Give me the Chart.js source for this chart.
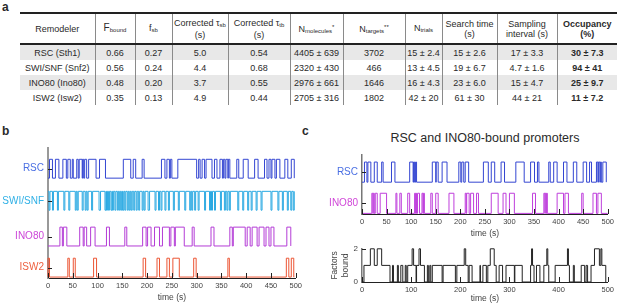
<!DOCTYPE html>
<html>
<head>
<meta charset="utf-8">
<script src="https://cdn.jsdelivr.net/npm/chart.js@4.4.1/dist/chart.umd.min.js"></script>
<style>
  body { margin: 0; width: 617px; height: 304px; background: #fff; position: relative; overflow: hidden;
         font-family: "Liberation Sans", Arial, sans-serif; color: #2a2a2a; }
  .lab { position: absolute; font-weight: bold; font-size: 12px; }
  table { position: absolute; left: 20px; top: 12px; width: 597px; border-collapse: collapse; table-layout: fixed;
          font-size: 9px; border-top: 2px solid #222; }
  th { font-weight: normal; height: 29px; border-bottom: 2px solid #222; line-height: 10px; }
  td, th { text-align: center; padding: 0; border-left: 1px solid #8a8a8a; white-space: nowrap; }
  td:first-child, th:first-child { border-left: none; }
  td { height: 15px; }
  tr.g td { background: #e8e8e8; }
  sub { font-size: 6px; vertical-align: -1px; }
  sup { font-size: 6px; vertical-align: 3px; }
  .big { font-size: 10px; }
  #ctitle { position: absolute; left: 360px; width: 250px; top: 131px; text-align: center; font-size: 12.5px; }
  canvas { position: absolute; }
</style>
</head>
<body>
<div class="lab" style="left:2px;top:0px;">a</div>
<div class="lab" style="left:2px;top:124px;">b</div>
<div class="lab" style="left:302px;top:124px;">c</div>
<div id="ctitle">RSC and INO80-bound promoters</div>

<table id="tbl">
  <colgroup>
    <col style="width:75px"><col style="width:40px"><col style="width:37px"><col style="width:56px">
    <col style="width:62px"><col style="width:53px"><col style="width:62px"><col style="width:37px">
    <col style="width:55px"><col style="width:60px"><col style="width:60px">
  </colgroup>
  <thead>
    <tr>
      <th>Remodeler</th>
      <th><span class="big">F</span><sub>bound</sub></th>
      <th>f<sub>sb</sub></th>
      <th>Corrected &tau;<sub>sb</sub><br>(s)</th>
      <th>Corrected &tau;<sub>tb</sub><br>(s)</th>
      <th>N<sub>molecules</sub><sup>*</sup></th>
      <th>N<sub>targets</sub><sup>**</sup></th>
      <th>N<sub>trials</sub></th>
      <th>Search time<br>(s)</th>
      <th>Sampling<br>interval (s)</th>
      <th><b>Occupancy<br>(%)</b></th>
    </tr>
  </thead>
  <tbody id="tbody"></tbody>
</table>

<canvas id="chartB" width="305" height="166" style="left:0px;top:138px;width:305px;height:166px;"></canvas>
<canvas id="chartC1" width="317" height="95" style="left:300px;top:145px;width:317px;height:95px;"></canvas>
<canvas id="chartC2" width="317" height="64" style="left:300px;top:240px;width:317px;height:64px;"></canvas>

<script>
// table a
var remodelers = ["RSC (Sth1)", "SWI/SNF (Snf2)", "INO80 (Ino80)", "ISW2 (Isw2)"];
var fBound = ["0.66", "0.56", "0.48", "0.35"];
var fSb = ["0.27", "0.24", "0.20", "0.13"];
var tauSb = ["5.0", "4.4", "3.7", "4.9"];
var tauTb = ["0.54", "0.68", "0.55", "0.44"];
var nMolecules = ["4405 ± 639", "2320 ± 430", "2976 ± 661", "2705 ± 316"];
var nTargets = ["3702", "466", "1646", "1802"];
var nTrials = ["15 ± 2.4", "13 ± 4.5", "16 ± 4.3", "42 ± 20"];
var searchTime = ["15 ± 2.6", "19 ± 6.7", "23 ± 6.0", "61 ± 30"];
var samplingInt = ["17 ± 3.3", "4.7 ± 1.6", "15 ± 4.7", "44 ± 21"];
var occupancy = ["30 ± 7.3", "94 ± 41", "25 ± 9.7", "11 ± 7.2"];

// panel b: binding intervals (s), flattened start,end
var rscBound = [3,9, 15,22, 30,37, 40,45, 49,51, 58,61, 63,69, 70,72, 74,78, 82,97, 104,116, 152,167, 172,177,
  190,194, 229,236, 240,245, 247,250, 262,300, 304,307, 311,316, 319,331, 336,341, 347,352, 354,357, 359,363,
  364,367, 381,385, 394,404, 417,424, 437,442, 446,450, 452,458, 461,468, 478,484, 491,497];
// SWI/SNF is mostly bound: these are the unbound dips
var swiUnbound = [2,4, 9,11, 19,21, 32,34, 42,44, 55,57, 59,61, 69,71, 75,77, 79,81, 88,90, 103,106, 115,117,
  118,120, 122,124, 127,129, 130,132, 135,137, 140,142, 144,146, 148,150, 151,153, 155,157, 160,162, 164,166,
  168,170, 173,175, 178,180, 183,185, 190,192, 194,196, 202,205, 216,218, 223,225, 228,230, 236,238, 243,245,
  253,255, 263,265, 276,278, 286,288, 290,292, 296,298, 303,305, 316,318, 326,328, 330,332, 336,338, 348,350,
  356,358, 361,363, 366,368, 383,385, 393,395, 403,405, 410,412, 420,422, 430,432, 450,452, 464,466, 473,475,
  483,485, 490,492, 495,497];
var ino80Bound = [24,29, 31,38, 64,71, 73,78, 86,95, 118,124, 155,159, 191,198, 201,208, 215,225, 231,245,
  248,255, 257,275, 291,295, 329,335, 367,372, 374,398, 402,408, 412,422, 426,436, 440,446, 450,456, 482,490];
var isw2Bound = [0,3, 40,43, 51,55, 92,98, 192,197, 220,225, 240,245, 252,265, 294,299, 363,366, 481,486, 491,496];

// panel c: RSC and INO80 at the same promoters
var cRscBound = [5,10, 12,18, 25,31, 40,43, 60,67, 97,104, 105,107, 109,111, 143,150, 151,155, 163,173, 197,201,
  203,207, 210,217, 247,257, 263,270, 283,290, 313,330, 343,351, 357,360, 380,383, 390,397, 410,417, 430,437,
  450,457, 463,467, 477,480, 481,484, 485,487, 490,497];
var cIno80Bound = [20,22, 23,25, 27,31, 37,50, 69,71, 77,80, 93,97, 107,109, 110,111, 113,117, 122,124, 125,127,
  140,143, 150,155, 177,187, 210,212, 213,218, 221,227, 233,237, 263,277, 287,293, 300,310, 347,353, 370,372,
  373,375, 376,377, 397,410, 413,420, 447,450, 470,477, 480,487];
// factors bound: time (s) where the level changes, and the new level
var fbTimes = [0, 4, 17, 25, 31, 40, 57, 62, 64, 72, 74, 79, 83, 88, 90, 93, 102, 105, 110, 111, 116, 119, 127,
  133, 135, 138, 140, 143, 163, 165, 190, 193, 208, 211, 216, 218, 224, 240, 241, 246, 253, 256, 261, 269, 273,
  279, 286, 293, 310, 311, 326, 343, 345, 347, 350, 355, 362, 370, 376, 378, 380, 393, 418, 420, 422, 430, 432,
  446, 453, 456, 459, 466, 473, 483, 486, 488, 496];
var fbLevels = [0, 1, 2, 1, 2, 1, 0, 1, 0, 1, 0, 1, 0, 1, 0, 1, 2, 1, 0, 1, 2, 1, 0,
  1, 0, 1, 0, 1, 0, 1, 0, 1, 2, 1, 0, 1, 0, 1, 0, 1, 0, 1, 2, 1, 0,
  1, 0, 1, 0, 1, 0, 1, 2, 1, 0, 1, 0, 1, 2, 1, 0, 1, 2, 1, 0, 1, 0,
  1, 0, 1, 0, 1, 2, 1, 2, 1, 0];

var xTicksB = [0, 50, 100, 150, 200, 250, 300, 350, 400, 450, 500];
var xTicksC2 = [0, 100, 200, 300, 400, 500];

var tb = document.getElementById("tbody");
remodelers.forEach(function (name, i) {
  var tr = document.createElement("tr");
  if (i % 2 === 0) tr.className = "g";
  var cells = [name, fBound[i], fSb[i], tauSb[i], tauTb[i], nMolecules[i], nTargets[i], nTrials[i],
    searchTime[i], samplingInt[i], "<b>" + occupancy[i] + "</b>"];
  tr.innerHTML = cells.map(function (c) { return "<td>" + c + "</td>"; }).join("");
  tb.appendChild(tr);
});

// turn flat toggle times into stepped points
function steps(toggles, base, start, end) {
  var state = start;
  var pts = [{ x: 0, y: base + state }];
  toggles.forEach(function (t) {
    state = 1 - state;
    pts.push({ x: t, y: base + state });
  });
  pts.push({ x: end, y: base + state });
  return pts;
}

function stepSet(data, color) {
  return { data: data, borderColor: color, borderWidth: 1, pointRadius: 0, stepped: true, fill: false, clip: 4 };
}

// small tick marks drawn inside the plot
var inTicks = {
  id: "inTicks",
  afterDatasetsDraw: function (chart) {
    var ctx = chart.ctx, a = chart.chartArea;
    var xs = chart.scales.x, ys = chart.scales.y;
    ctx.save();
    ctx.strokeStyle = "#222";
    ctx.lineWidth = 1;
    xs.ticks.forEach(function (t) {
      var px = Math.round(xs.getPixelForValue(t.value)) + 0.5;
      ctx.beginPath(); ctx.moveTo(px, a.bottom); ctx.lineTo(px, a.bottom - 5); ctx.stroke();
    });
    ys.ticks.forEach(function (t) {
      var py = Math.round(ys.getPixelForValue(t.value)) + 0.5;
      ctx.beginPath(); ctx.moveTo(a.left, py); ctx.lineTo(a.left + 4, py); ctx.stroke();
    });
    ctx.restore();
  }
};

function xAxis(tickList, h, titlePad) {
  return {
    type: "linear", min: 0, max: 500,
    afterBuildTicks: function (s) { s.ticks = tickList.map(function (v) { return { value: v }; }); },
    afterFit: function (s) { s.height = h; },
    grid: { display: false, drawTicks: false },
    border: { display: true, color: "#222", width: 1 },
    ticks: { font: { size: 7.5 }, color: "#444", padding: 3, maxRotation: 0, autoSkip: false },
    title: { display: true, text: "time (s)", font: { size: 8.5 }, color: "#444", padding: { top: 2, bottom: titlePad } }
  };
}

Chart.defaults.font.family = '"Liberation Sans", Arial, sans-serif';

// panel b
var bLabels = ["ISW2", "INO80", "SWI/SNF", "RSC"];
var bColors = ["#ee5f3e", "#cc45d8", "#2fb0e6", "#4a6fe3"];
var bBase = [0, 1.65, 3.55, 5.25];
new Chart(document.getElementById("chartB").getContext("2d"), {
  type: "line",
  data: {
    datasets: [
      stepSet(steps(rscBound, bBase[3], 0, 497), "#3446d2"),
      stepSet(steps(swiUnbound, bBase[2], 1, 497), "#2aa9e2"),
      stepSet(steps(ino80Bound, bBase[1], 0, 490), "#b43cd6"),
      stepSet(steps(isw2Bound, bBase[0], 0, 497), "#ec5534")
    ]
  },
  options: {
    responsive: false, animation: false, events: [],
    layout: { padding: { left: 0, right: 8, top: 2, bottom: 0 } },
    plugins: { legend: { display: false }, tooltip: { enabled: false } },
    scales: {
      x: xAxis(xTicksB, 26, 1),
      y: {
        min: -0.05, max: 6.85,
        afterBuildTicks: function (s) { s.ticks = bBase.map(function (b) { return { value: b + 0.5 }; }); },
        afterFit: function (s) { s.width = 48; },
        grid: { display: false, drawTicks: false },
        border: { display: true, color: "#999", width: 2 },
        ticks: {
          autoSkip: false, padding: 4, font: { size: 10 },
          color: function (c) { return bColors[c.index]; },
          callback: function (v, i) { return bLabels[i]; }
        }
      }
    }
  },
  plugins: [inTicks]
});

// panel c, top
var cLabels = ["INO80", "RSC"];
var cColors = ["#d046d8", "#4a6fe3"];
var cBase = [0, 1.55];
new Chart(document.getElementById("chartC1").getContext("2d"), {
  type: "line",
  data: {
    datasets: [
      stepSet(steps(cRscBound, cBase[1], 0, 497), "#3446d2"),
      stepSet(steps(cIno80Bound, cBase[0], 0, 500), "#bf3fdc")
    ]
  },
  options: {
    responsive: false, animation: false, events: [],
    layout: { padding: { left: 0, right: 5, top: 5, bottom: 0 } },
    plugins: { legend: { display: false }, tooltip: { enabled: false } },
    scales: {
      x: xAxis(xTicksB, 26, 1),
      y: {
        min: -0.03, max: 2.9,
        afterBuildTicks: function (s) { s.ticks = cBase.map(function (b) { return { value: b + 0.5 }; }); },
        afterFit: function (s) { s.width = 62; },
        grid: { display: false, drawTicks: false },
        border: { display: true, color: "#777", width: 1.5 },
        ticks: {
          autoSkip: false, padding: 4, font: { size: 10 },
          color: function (c) { return cColors[c.index]; },
          callback: function (v, i) { return cLabels[i]; }
        }
      }
    }
  },
  plugins: [inTicks]
});

// panel c, bottom: number of factors bound
var fbData = fbTimes.map(function (t, i) { return { x: t, y: fbLevels[i] }; });
new Chart(document.getElementById("chartC2").getContext("2d"), {
  type: "line",
  data: { datasets: [stepSet(fbData, "#222")] },
  options: {
    responsive: false, animation: false, events: [],
    layout: { padding: { left: 30, right: 5, top: 5, bottom: 0 } },
    plugins: { legend: { display: false }, tooltip: { enabled: false } },
    scales: {
      x: xAxis(xTicksC2, 22, 0),
      y: {
        min: 0, max: 2,
        afterBuildTicks: function (s) { s.ticks = [{ value: 0 }, { value: 2 }]; },
        afterFit: function (s) { s.width = 32; },
        grid: { display: false, drawTicks: false },
        border: { display: true, color: "#777", width: 1.5 },
        ticks: { autoSkip: false, padding: 4, font: { size: 8 }, color: "#444" },
        title: { display: true, text: ["Factors", "bound"], font: { size: 8.5 }, color: "#444", padding: 0 }
      }
    }
  },
  plugins: [inTicks]
});
</script>
</body>
</html>
